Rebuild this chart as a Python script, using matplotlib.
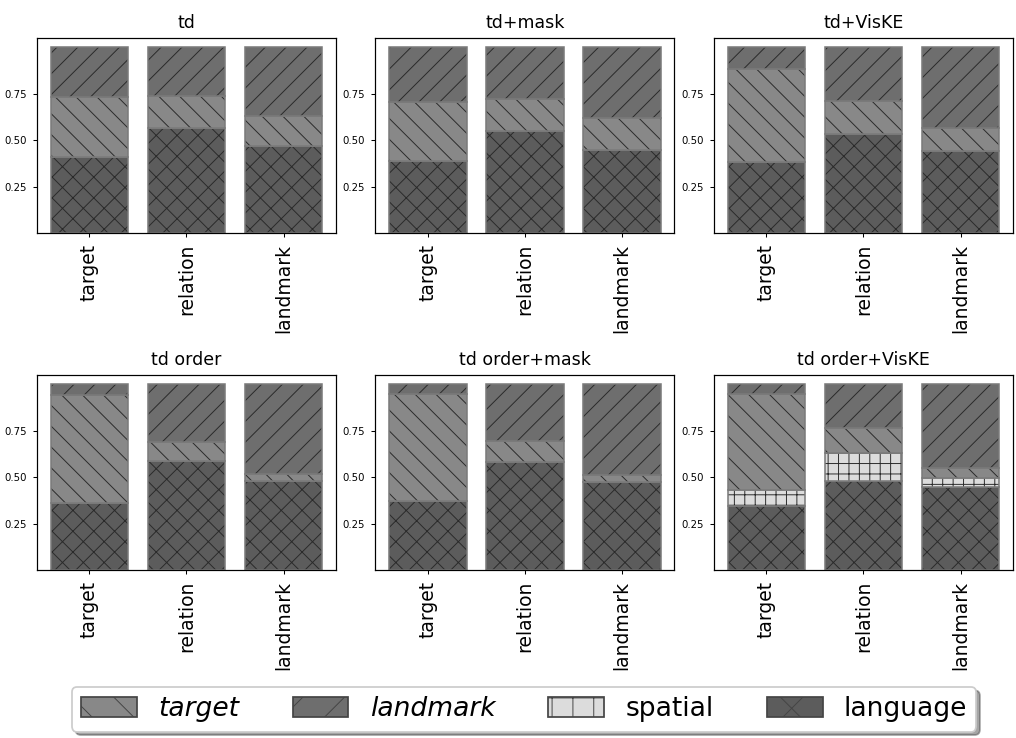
import matplotlib.pyplot as plt
from matplotlib.patches import Patch

titles = ["td", "td+mask", "td+VisKE", "td order", "td order+mask", "td order+VisKE"]
roles = ["target", "relation", "landmark"]

# share of attention per word role, one row per model (bottom -> top)
language = [[0.412, 0.567, 0.469],
            [0.388, 0.550, 0.446],
            [0.385, 0.534, 0.442],
            [0.360, 0.586, 0.478],
            [0.374, 0.581, 0.473],
            [0.344, 0.480, 0.448]]
spatial = [[0.0, 0.0, 0.0],
           [0.0, 0.0, 0.0],
           [0.0, 0.0, 0.0],
           [0.0, 0.0, 0.0],
           [0.0, 0.0, 0.0],
           [0.089, 0.148, 0.048]]
target = [[0.320, 0.170, 0.160],
          [0.315, 0.169, 0.174],
          [0.500, 0.176, 0.123],
          [0.582, 0.106, 0.040],
          [0.574, 0.113, 0.038],
          [0.513, 0.135, 0.051]]
landmark = [[0.268, 0.263, 0.371],
            [0.297, 0.281, 0.380],
            [0.115, 0.290, 0.435],
            [0.058, 0.308, 0.482],
            [0.052, 0.306, 0.489],
            [0.054, 0.237, 0.453]]

styles = {
    "language": ("#5c5c5c", "xx"),
    "spatial": ("#dcdcdc", "++"),
    "target": ("#888888", "\\\\"),
    "landmark": ("#6e6e6e", "//"),
}

plt.rcParams['hatch.linewidth'] = 0.55

fig, axes = plt.subplots(2, 3, figsize=(8.128, 5.904), dpi=125)
fig.subplots_adjust(left=0.0364, right=0.997, top=0.9485, bottom=0.2276,
                    wspace=0.132, hspace=0.728)

x = list(range(len(roles)))
for i, ax in enumerate(axes.flat):
    bottom = [0.0, 0.0, 0.0]
    for name, vals in [("language", language[i]), ("spatial", spatial[i]),
                       ("target", target[i]), ("landmark", landmark[i])]:
        col, hatch = styles[name]
        ax.bar(x, vals, 0.8, bottom=bottom, color=col, hatch=hatch,
               edgecolor="#2a2a2a", linewidth=0)
        ax.bar(x, vals, 0.8, bottom=bottom, fill=False,
               edgecolor="#7a7a7a", linewidth=0.9)
        bottom = [b + v for b, v in zip(bottom, vals)]
    ax.set_title(titles[i], fontsize=10)
    ax.set_yticks([0.25, 0.5, 0.75])
    ax.set_yticklabels(["0.25", "0.50", "0.75"])
    ax.tick_params(axis='y', labelsize=5.8, length=2.5, width=0.6)
    ax.set_xticks(x)
    ax.set_xticklabels(roles, rotation=90, fontsize=10.8)
    ax.tick_params(axis='x', length=2.5, width=0.6)
    for s in ax.spines.values():
        s.set_linewidth(0.7)

# legend swatches use the plain (sparser) hatch like the original
handles = [Patch(facecolor=styles[n][0], hatch=styles[n][1][0], edgecolor="#444444")
           for n in ["target", "landmark", "spatial", "language"]]
leg = fig.legend(handles, ["target", "landmark", "spatial", "language"],
                 loc="center", bbox_to_anchor=(0.516, 0.039), ncol=4,
                 fontsize=15.3, fancybox=True, shadow=True, handlelength=2.1,
                 handleheight=0.75, columnspacing=2.0, handletextpad=0.8,
                 borderpad=0.35, edgecolor="#cccccc")
for t in leg.get_texts()[:2]:
    t.set_style("italic")

fig.savefig("out.png", dpi=125)
